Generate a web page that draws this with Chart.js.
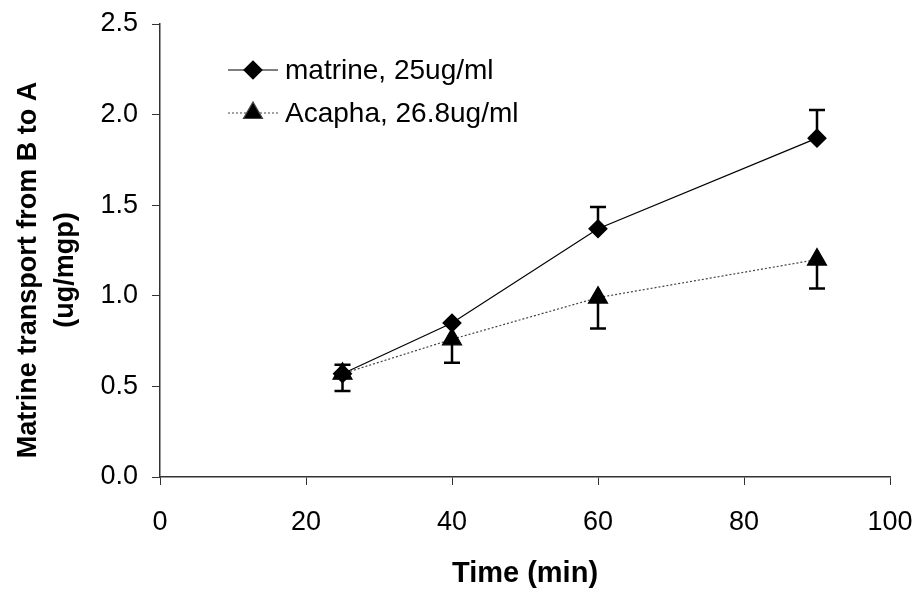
<!DOCTYPE html>
<html lang="en">
<head>
    <meta charset="UTF-8">
    <title>Matrine transport from B to A</title>
    <script src="https://cdn.jsdelivr.net/npm/chart.js"></script>
    <style>
        body {
            margin: 0;
            background: #fff;
        }
        #wrap {
            width: 915px;
            height: 595px;
        }
    </style>
</head>
<body>

<div id="wrap">
    <canvas id="myChart"></canvas>
</div>

<script>
// sampling times (min)
const times = [25, 40, 60, 90];

// mean transport (ug/mgp)
const matrine = [0.57, 0.85, 1.37, 1.87];
const acapha = [0.57, 0.76, 0.99, 1.20];

// SD: matrine bars point up, Acapha bars point down
const matrineErr = [0.05, 0, 0.12, 0.155];
const acaphaErr = [0.095, 0.13, 0.17, 0.16];

const xTicks = [0, 20, 40, 60, 80, 100];
const yTicks = [0, 0.5, 1.0, 1.5, 2.0, 2.5];

const yTitle = ['Matrine transport from B to A', '(ug/mgp)'];

const FONT = "'Liberation Sans', Arial, sans-serif";

// error bars, drawn with the chart's own scales
const errorBars = {
    id: 'errorBars',
    afterDatasetsDraw(chart) {
        const ctx = chart.ctx;
        const xs = chart.scales.x, ys = chart.scales.y;
        ctx.save();
        ctx.strokeStyle = '#000';
        ctx.lineWidth = 2.5;
        chart.data.datasets.forEach(ds => {
            ds.data.forEach((p, i) => {
                const e = ds.err[i];
                if (!e) return;
                const x = xs.getPixelForValue(p.x);
                const y0 = ys.getPixelForValue(p.y);
                const y1 = ys.getPixelForValue(p.y + ds.errDir * e);
                ctx.beginPath();
                ctx.moveTo(x, y0);
                ctx.lineTo(x, y1);
                ctx.moveTo(x - 8, y1);
                ctx.lineTo(x + 8, y1);
                ctx.stroke();
            });
        });
        ctx.restore();
    }
};

// legend inside the plot, top left
const innerLegend = {
    id: 'innerLegend',
    afterDraw(chart) {
        const ctx = chart.ctx;
        const x0 = 228, x1 = 278;
        const rows = [70, 113];
        ctx.save();
        chart.data.datasets.forEach((ds, i) => {
            const y = rows[i];
            ctx.strokeStyle = ds.borderColor;
            ctx.lineWidth = ds.borderWidth;
            ctx.setLineDash(ds.borderDash || []);
            ctx.beginPath();
            ctx.moveTo(x0, y);
            ctx.lineTo(x1, y);
            ctx.stroke();
            ctx.setLineDash([]);
            Chart.helpers.drawPoint(ctx, {
                pointStyle: ds.pointStyle,
                radius: ds.pointRadius,
                borderWidth: 1
            }, (x0 + x1) / 2, y);
            ctx.fillStyle = '#000';
            ctx.font = '28px ' + FONT;
            ctx.textBaseline = 'middle';
            ctx.fillText(ds.label, 285, y + 1);
        });
        ctx.restore();
    }
};

// two-line rotated y axis title
const yAxisTitle = {
    id: 'yAxisTitle',
    afterDraw(chart) {
        const ctx = chart.ctx;
        const cy = 270;
        const cols = [29, 66];
        ctx.save();
        ctx.fillStyle = '#000';
        ctx.font = 'bold 27px ' + FONT;
        ctx.textAlign = 'center';
        ctx.textBaseline = 'middle';
        yTitle.forEach((t, i) => {
            ctx.save();
            ctx.translate(cols[i], cy);
            ctx.rotate(-Math.PI / 2);
            ctx.fillText(t, 0, 0);
            ctx.restore();
        });
        ctx.restore();
    }
};

const ctx = document.getElementById('myChart').getContext('2d');
const chart = new Chart(ctx, {
    type: 'line',
    data: {
        datasets: [
            {
                label: 'matrine, 25ug/ml',
                data: times.map((t, i) => ({ x: t, y: matrine[i] })),
                err: matrineErr,
                errDir: 1,
                borderColor: '#000',
                borderWidth: 1.2,
                pointStyle: 'rectRot',
                pointRadius: 9,
                backgroundColor: '#000',
                pointBorderColor: '#000',
                tension: 0
            },
            {
                label: 'Acapha, 26.8ug/ml',
                data: times.map((t, i) => ({ x: t, y: acapha[i] })),
                err: acaphaErr,
                errDir: -1,
                borderColor: '#444',
                borderWidth: 1.2,
                borderDash: [2, 2],
                pointStyle: 'triangle',
                pointRadius: 11,
                backgroundColor: '#000',
                pointBorderColor: '#000',
                tension: 0
            }
        ]
    },
    options: {
        responsive: true,
        maintainAspectRatio: false,
        animation: false,
        layout: { padding: { top: 24, right: 25, left: 0, bottom: 0 } },
        plugins: {
            legend: { display: false },
            tooltip: { enabled: false }
        },
        scales: {
            x: {
                type: 'linear',
                min: 0,
                max: 100,
                afterBuildTicks: s => { s.ticks = xTicks.map(v => ({ value: v })); },
                afterFit: s => {
                    s.height = 118;
                    s.paddingLeft = 0;
                    s.paddingRight = 0;
                },
                grid: {
                    drawOnChartArea: false,
                    drawTicks: true,
                    tickLength: 8,
                    color: '#333'
                },
                border: { color: '#333', width: 1.5 },
                ticks: {
                    color: '#000',
                    font: { family: FONT, size: 27 },
                    padding: 21,
                    maxRotation: 0
                },
                title: {
                    display: true,
                    text: 'Time (min)',
                    color: '#000',
                    font: { family: FONT, size: 29, weight: 'bold' },
                    padding: { top: 18 }
                }
            },
            y: {
                min: 0,
                max: 2.5,
                afterBuildTicks: s => { s.ticks = yTicks.map(v => ({ value: v })); },
                afterFit: s => {
                    s.width = 160;
                    s.paddingTop = 0;
                    s.paddingBottom = 0;
                },
                grid: {
                    drawOnChartArea: false,
                    drawTicks: true,
                    tickLength: 8,
                    color: '#333'
                },
                border: { color: '#333', width: 1.5 },
                ticks: {
                    color: '#000',
                    font: { family: FONT, size: 27 },
                    padding: 14,
                    callback: v => v.toFixed(1)
                }
            }
        }
    },
    plugins: [errorBars, innerLegend, yAxisTitle]
});
</script>

</body>
</html>
